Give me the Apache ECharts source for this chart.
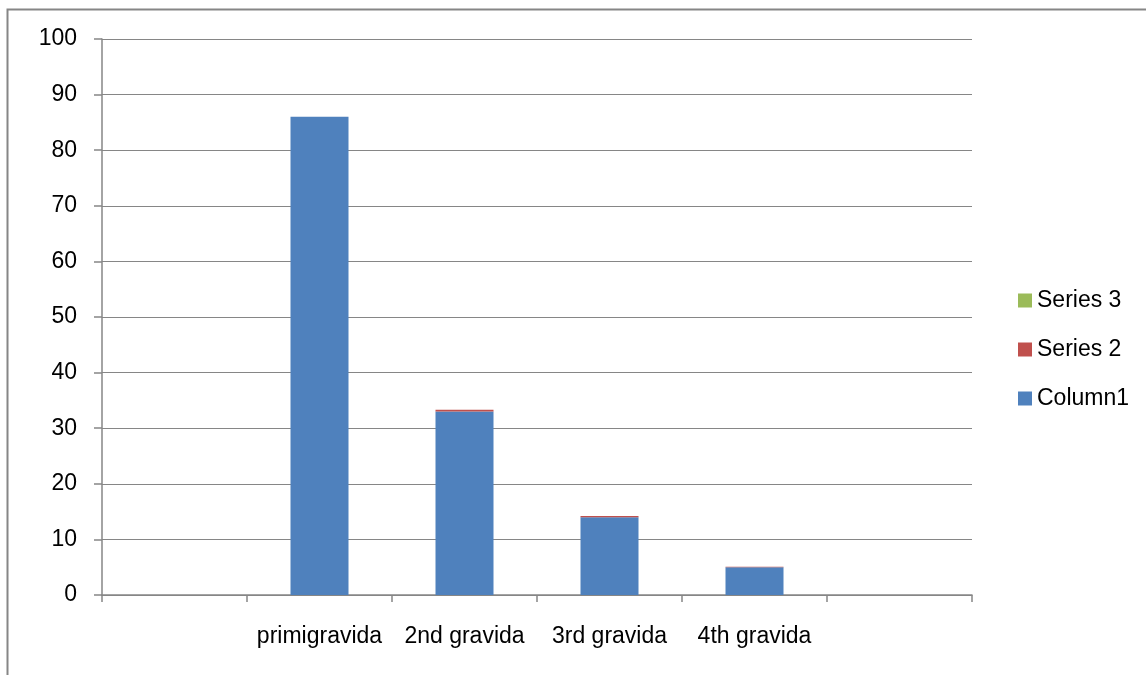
<!DOCTYPE html>
<html>
<head>
<meta charset="utf-8">
<script src="https://cdn.jsdelivr.net/npm/echarts@6/dist/echarts.min.js"></script>
<style>
  html, body { margin: 0; padding: 0; background: #fff; }
  #chart { width: 1146px; height: 675px; }
</style>
</head>
<body>
<div id="chart"></div>
<script>
// Gravida categories (blank slots at each end of the axis)
const categories = ['', 'primigravida', '2nd gravida', '3rd gravida', '4th gravida', ''];
const column1 = [null, 86, 33, 14, 5, null];
const series2 = [null, 0, 0.3, 0.2, 0.1, null];
const series3 = [null, 0, 0, 0, 0, null];
const yTicks = { min: 0, max: 100, interval: 10 };

const FONT = 'Liberation Sans';
const GRAY = '#868686';

const chart = echarts.init(document.getElementById('chart'), null, { renderer: 'canvas' });
chart.setOption({
  backgroundColor: '#fff',
  animation: false,
  textStyle: { fontFamily: FONT, color: '#000' },
  graphic: [{
    type: 'rect',
    left: 5, top: 7,
    shape: { width: 1160, height: 700 },
    style: { fill: 'none', stroke: GRAY, lineWidth: 2 },
    silent: true
  }],
  grid: { left: 102, right: 174, top: 39, bottom: 80 },
  legend: {
    orient: 'vertical',
    left: 1013, top: 284,
    itemWidth: 14, itemHeight: 14, itemGap: 26,
    icon: 'rect',
    data: ['Series 3', 'Series 2', 'Column1'],
    textStyle: { fontFamily: FONT, fontSize: 23, color: '#000', padding: [0, 0, 0, 0] }
  },
  xAxis: {
    type: 'category',
    data: categories,
    axisLine: { lineStyle: { color: GRAY, width: 1.5 } },
    axisTick: { show: true, length: 7, alignWithLabel: false, lineStyle: { color: GRAY, width: 1.5 } },
    axisLabel: { interval: 0, fontSize: 23, color: '#000', margin: 30, fontFamily: FONT }
  },
  yAxis: {
    type: 'value',
    min: yTicks.min, max: yTicks.max, interval: yTicks.interval,
    axisLine: { show: true, lineStyle: { color: GRAY, width: 1.5 } },
    axisTick: { show: true, length: 8, lineStyle: { color: GRAY, width: 1.5 } },
    splitLine: { lineStyle: { color: GRAY, width: 1 } },
    axisLabel: { fontSize: 23, color: '#000', margin: 25, fontFamily: FONT }
  },
  series: [
    { name: 'Column1', type: 'bar', stack: 'g', data: column1, barWidth: '40%', itemStyle: { color: '#4F81BD' } },
    { name: 'Series 2', type: 'bar', stack: 'g', data: series2, barWidth: '40%', itemStyle: { color: '#C0504D' } },
    { name: 'Series 3', type: 'bar', stack: 'g', data: series3, barWidth: '40%', itemStyle: { color: '#9BBB59' } }
  ]
});
</script>
</body>
</html>
